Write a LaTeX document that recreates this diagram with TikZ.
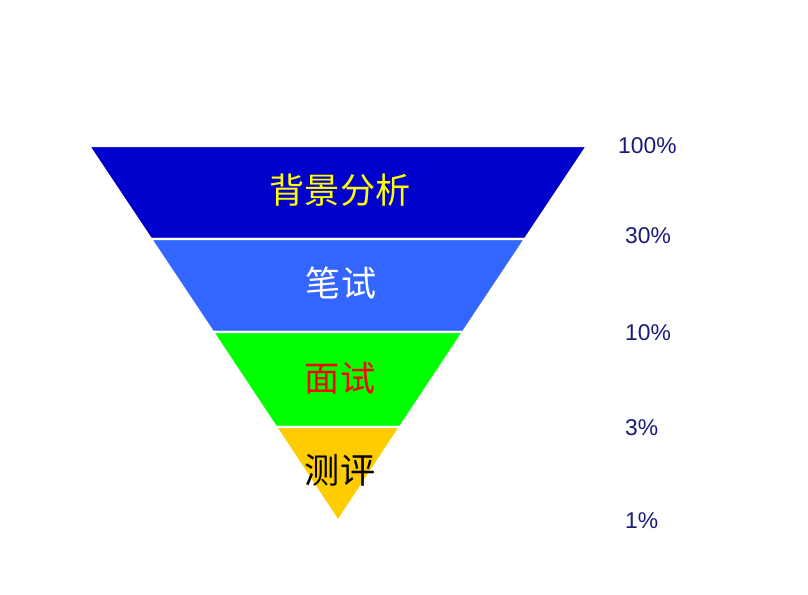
\documentclass[tikz,border=0pt]{standalone}
\usepackage{fontspec}
\setmainfont{Liberation Sans}
\newfontfamily\cjk{Noto Sans CJK SC}
\usepackage{tikz}
\definecolor{bandone}{HTML}{0000CC}
\definecolor{bandtwo}{HTML}{3366FF}
\definecolor{bandthree}{HTML}{00FF00}
\definecolor{bandfour}{HTML}{FFCC00}
\definecolor{pctnavy}{HTML}{1C1C78}
\definecolor{txtyellow}{HTML}{FFFF00}
\begin{document}
\begin{tikzpicture}[band/.style={draw=white, line width=1.2pt},
	stage/.style={font=\cjk\fontsize{20}{22}\selectfont},
	pct/.style={anchor=west, text=pctnavy, font=\fontsize{13}{15}\selectfont}]
	\useasboundingbox (0,0) rectangle (16.16,11.9);
	\fill[white] (0,0) rectangle (16.16,11.9);
	\draw[band, fill=bandone] (1.78,8.98)--(11.74,8.98)--(10.50,7.12)--(3.02,7.12)--cycle;
	\draw[band, fill=bandtwo] (3.02,7.12)--(10.50,7.12)--(9.26,5.26)--(4.26,5.26)--cycle;
	\draw[band, fill=bandthree] (4.26,5.26)--(9.26,5.26)--(8.00,3.36)--(5.52,3.36)--cycle;
	\draw[band, fill=bandfour] (5.52,3.36)--(8.00,3.36)--(6.76,1.48)--cycle;
	\node (bg) [stage, text=txtyellow, at={(6.80,8.10)}] {背景分析};
	\node (bs) [stage, text=white, at={(6.82,6.24)}] {笔试};
	\node (ms) [stage, text=red, at={(6.80,4.34)}] {面试};
	\node (cp) [stage, text=black, at={(6.80,2.50)}] {测评};
	\node (p100) [pct, at={(12.24,8.98)}] {100\%};
	\node (p30) [pct, at={(12.38,7.18)}] {30\%};
	\node (p10) [pct, at={(12.38,5.24)}] {10\%};
	\node (p3) [pct, at={(12.38,3.34)}] {3\%};
	\node (p1) [pct, at={(12.38,1.48)}] {1\%};
\end{tikzpicture}
\end{document}
